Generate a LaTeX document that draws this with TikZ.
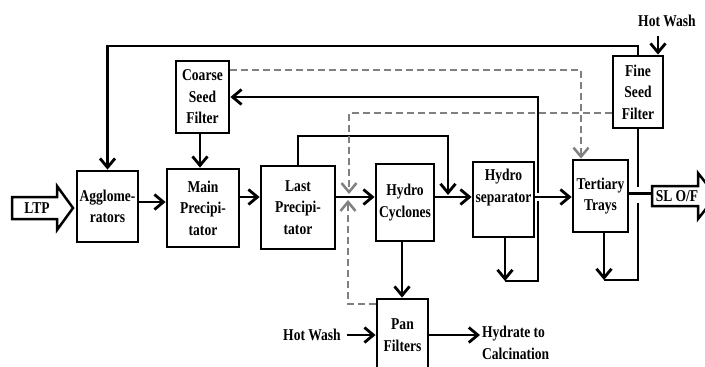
\documentclass[tikz,border=0pt]{standalone}
\usepackage{fontspec}
\setmainfont{Liberation Serif}[FakeStretch=0.82]
\usetikzlibrary{arrows.meta}
\begin{document}
\begin{tikzpicture}[x=1pt,y=-1pt,
  txt/.style={inner sep=0pt,align=center,font=\bfseries\fontsize{16.5}{21.5}\selectfont},
  box/.style={txt,draw,line width=2.8pt},
  flow/.style={line width=2.8pt,-{Straight Barb[length=9pt,width=15pt]}},
  plain/.style={line width=2.8pt},
  dflow/.style={line width=2.5pt,draw=black!50,dash pattern=on 7pt off 4pt,-{Straight Barb[length=9pt,width=15pt]}},
  blockarrow/.style={line width=2.5pt,line join=miter},
]
\useasboundingbox (0,0) rectangle (705,367);

% boxes
\node[box,minimum width=61pt,minimum height=71pt] (agg) at (107.5,206.5) {Agglome-\\rators};
\node[box,minimum width=72pt,minimum height=78pt] (main) at (203,208) {Main\\Precipi-\\tator};
\node[box,minimum width=53pt,minimum height=72pt] (csf) at (202.5,97) {Coarse\\Seed\\Filter};
\node[box,minimum width=74pt,minimum height=83pt] (last) at (298,207.5) {Last\\Precipi-\\tator};
\node[box,minimum width=58pt,minimum height=77pt] (hc) at (405,202.5) {Hydro\\Cyclones};
\node[box,minimum width=61pt,minimum height=75pt] (hs) at (503.5,199.5) {Hydro\\separator\\\strut};
\node[box,minimum width=55pt,minimum height=72pt] (tt) at (600.5,196) {Tertiary\\Trays};
\node[box,minimum width=50pt,minimum height=72pt] (fsf) at (638,92) {Fine\\Seed\\Filter};
\node[box,minimum width=51pt,minimum height=72pt] (pan) at (402.5,335) {Pan\\Filters};

% block arrows
\draw[blockarrow] (12,197) -- (57,197) -- (57,186) -- (73,208) -- (57,230) -- (57,219) -- (12,219) -- cycle;
\node[txt] (ltp) at (37,208) {LTP};
\draw[blockarrow] (652,186) -- (698,186) -- (698,173) -- (716,196) -- (698,219) -- (698,206) -- (652,206) -- cycle;
\node[txt] (slof) at (677,196) {SL O/F};

% free labels
\node[txt] (hw1) at (667,21) {Hot Wash};
\node[txt] (hw2) at (312,335) {Hot Wash};
\node[txt,anchor=west,align=left] (hyd) at (482,343) {Hydrate to\\Calcination};

% helper coordinates
\coordinate (r197) at (0,197);
\coordinate (r202) at (0,202);
\coordinate (top) at (0,46);
\coordinate (lp1) at (448,136);
\coordinate (lp2) at (448,195);
\coordinate (hsb) at (505,281);
\coordinate (hsr) at (538,281);
\coordinate (hsg1) at (538,201);
\coordinate (hsg2) at (538,193);
\coordinate (ttb) at (604,280);
\coordinate (ttr) at (638,280);
\coordinate (ttg1) at (638,203);
\coordinate (ttg2) at (638,187);
\coordinate (hwin) at (658,36);
\coordinate (d1) at (581,70);
\coordinate (d2) at (349,113);
\coordinate (d2e) at (349,194);
\coordinate (d3) at (348,304);
\coordinate (d3e) at (348,200);

% main flow
\draw[flow] (agg.east |- r202) -- (main.west |- r202);
\draw[flow] (main.east |- r197) -- (last.west |- r197);
\draw[flow] (last.east |- r197) -- (hc.west |- r197);
\draw[flow] (hc.east |- r197) -- (hs.west |- r197);
\draw[flow] (hs.east |- r197) -- (tt.west |- r197);
\draw[plain] (tt.east |- 0,193.5) -- (652,193.5);
\draw[flow] (csf.south -| 200,0) -- (main.north -| 200,0);
\draw[flow] (hc.south -| 402,0) -- (pan.north -| 402,0);
\draw[flow] (hw2.east) ++(6,0) -- (pan.west);
\draw[flow] (pan.east) -- (pan.east -| 480,0);

% recycle lines
\draw[flow] (fsf.north) -- (fsf.north |- top) -| (agg.north);
\draw[flow] (hwin) -- (hwin |- fsf.north);
\draw[flow] (last.north) |- (lp1) -- (lp2);
\draw[flow] (hs.south -| hsb) -- (hsb);
\draw[plain] (hsb) -- (hsr) -- (hsg1);
\draw[flow] (hsg2) |- (csf.east);
\draw[flow] (tt.south -| ttb) -- (ttb);
\draw[plain] (ttb) -- (ttr) -- (ttg1);
\draw[plain] (ttg2) -- (fsf.south);

% dashed recycle
\draw[dflow] (csf.east |- d1) -| (tt.north -| d1);
\draw[dflow] (fsf.west |- d2) -- (d2) -- (d2e);
\draw[dflow] (pan.west |- d3) -- (d3) -- (d3e);
\end{tikzpicture}
\end{document}
